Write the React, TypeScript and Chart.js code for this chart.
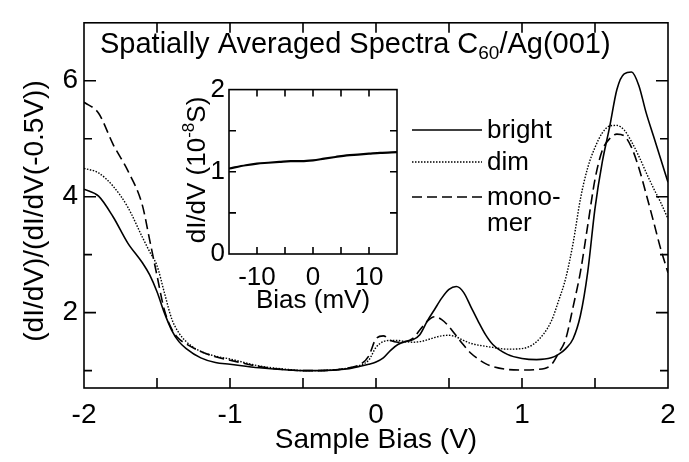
import React, { useEffect, useRef } from "react";
import { Chart, registerables } from "chart.js";
Chart.register(...registerables);

// ---------------- data ----------------
const biasV = [
  -2, -1.9, -1.8, -1.7, -1.6, -1.55, -1.5, -1.45, -1.4, -1.35, -1.3, -1.2, -1.1, -1.0,
  -0.8, -0.6, -0.5, -0.4, -0.2, -0.1, -0.05, 0, 0.05, 0.1, 0.15, 0.2, 0.25, 0.3, 0.35,
  0.4, 0.45, 0.5, 0.55, 0.6, 0.65, 0.7, 0.75, 0.8, 0.9, 1.0, 1.1, 1.2, 1.25, 1.3, 1.35,
  1.4, 1.45, 1.5, 1.55, 1.6, 1.65, 1.7, 1.75, 1.8, 1.85, 1.9, 1.95, 2.0,
];
const bright = [
  4.13, 4.01, 3.65, 3.2, 2.86, 2.65, 2.36, 2.0, 1.7, 1.5, 1.38, 1.22, 1.14, 1.11,
  1.05, 1.01, 1.0, 1.0, 1.03, 1.08, 1.11, 1.15, 1.22, 1.35, 1.45, 1.5, 1.53, 1.62, 1.85,
  2.05, 2.25, 2.4, 2.45, 2.35, 2.1, 1.85, 1.62, 1.45, 1.28, 1.21, 1.19, 1.22, 1.28, 1.38, 1.55,
  1.95, 2.7, 3.8, 4.6, 5.2, 5.85, 6.12, 6.15, 5.92, 5.45, 5.05, 4.65, 4.25,
];
const dim = [
  4.49, 4.41, 4.18, 3.82, 3.3, 3.05, 2.81, 2.35, 1.9, 1.65, 1.5, 1.33, 1.25, 1.2,
  1.08, 1.02, 1.0, 1.0, 1.04, 1.1, 1.18, 1.4, 1.5, 1.52, 1.52, 1.5, 1.49, 1.5, 1.53,
  1.57, 1.6, 1.61, 1.58, 1.52, 1.47, 1.44, 1.42, 1.4, 1.37, 1.38, 1.5, 1.85, 2.2, 2.6, 3.2,
  3.96, 4.5, 4.85, 5.1, 5.22, 5.23, 5.15, 4.95, 4.7, 4.42, 4.15, 3.9, 3.62,
];
const monomer = [
  5.63, 5.44, 4.9, 4.45, 3.85, 3.25, 2.64, 2.05, 1.72, 1.55, 1.46, 1.33, 1.24, 1.18,
  1.07, 1.01, 1.0, 1.0, 1.04, 1.12, 1.25, 1.55, 1.6, 1.52, 1.49, 1.5, 1.55, 1.7, 1.85,
  1.93, 1.88, 1.76, 1.6, 1.44, 1.3, 1.2, 1.12, 1.07, 1.02, 1.01, 1.02, 1.1, 1.3, 1.55, 2.1,
  2.7, 3.5, 4.3, 4.8, 5.0, 5.08, 5.05, 4.85, 4.5, 4.05, 3.58, 3.1, 2.69,
];
const seriesLabels = ["bright", "dim", "monomer"];
const legendLines = [["bright"], ["dim"], ["mono-", "mer"]];

const xTickLabels = [-2, -1, 0, 1, 2];
const yTickLabels = [2, 4, 6];
const xTickMarks = [-1.5, -1, -0.5, 0, 0.5, 1, 1.5];
const yTickMarks = [1, 2, 3, 4, 5, 6];

const insetBiasMV = [-15, -12, -10, -8, -6, -4, -2, 0, 2, 4, 6, 8, 10, 12, 15];
const insetDIdV = [1.04, 1.08, 1.1, 1.11, 1.12, 1.13, 1.13, 1.14, 1.16, 1.18, 1.2, 1.21, 1.22, 1.23, 1.24];
const insetXTickLabels = [-10, 0, 10];
const insetYTickLabels = [0, 1, 2];
const insetXTickMarks = [-10, -5, 0, 5, 10];
const insetYTickMarks = [0.5, 1, 1.5];

// ---------------- styles ----------------
const FAM = '"Liberation Sans", Arial, sans-serif';
const INK = "#000";

function frameTicks(id: string, xMarks: number[], yMarks: number[], xLen: number, yLen: (v: number) => number, lw: number) {
  return {
    id,
    afterDatasetsDraw(chart: any) {
      const { ctx, chartArea } = chart;
      const { left, right, top, bottom } = chartArea;
      const xs = chart.scales.x;
      const ys = chart.scales.y;
      ctx.save();
      ctx.strokeStyle = INK;
      ctx.lineWidth = lw;
      ctx.setLineDash([]);
      ctx.strokeRect(left, top, right - left, bottom - top);
      ctx.beginPath();
      for (const v of xMarks) {
        const px = xs.getPixelForValue(v);
        ctx.moveTo(px, bottom);
        ctx.lineTo(px, bottom - xLen);
        ctx.moveTo(px, top);
        ctx.lineTo(px, top + xLen);
      }
      for (const v of yMarks) {
        const py = ys.getPixelForValue(v);
        const l = yLen(v);
        ctx.moveTo(left, py);
        ctx.lineTo(left + l, py);
        ctx.moveTo(right, py);
        ctx.lineTo(right - l, py);
      }
      ctx.stroke();
      ctx.restore();
    },
  };
}

const mainTextPlugin = {
  id: "mainText",
  afterDraw(chart: any) {
    const { ctx } = chart;
    ctx.save();
    ctx.fillStyle = INK;
    // title with subscript
    ctx.textAlign = "left";
    ctx.textBaseline = "alphabetic";
    let x = 100;
    const base = 53;
    ctx.font = `29px ${FAM}`;
    const p1 = "Spatially Averaged Spectra C";
    ctx.fillText(p1, x, base);
    x += ctx.measureText(p1).width;
    ctx.font = `19px ${FAM}`;
    ctx.fillText("60", x, base + 6);
    x += ctx.measureText("60").width;
    ctx.font = `29px ${FAM}`;
    ctx.fillText("/Ag(001)", x, base);

    // y title
    ctx.save();
    ctx.translate(43, 211);
    ctx.rotate(-Math.PI / 2);
    ctx.textAlign = "center";
    ctx.font = `28px ${FAM}`;
    ctx.fillText("(dI/dV)/(dI/dV(-0.5V))", 0, 0);
    ctx.restore();

    // legend
    const ds = chart.data.datasets;
    const lineYs = [130, 162, 197];
    ctx.font = `26px ${FAM}`;
    for (let i = 0; i < ds.length; i++) {
      const y = lineYs[i];
      ctx.save();
      ctx.strokeStyle = ds[i].borderColor;
      ctx.lineWidth = ds[i].borderWidth;
      ctx.setLineDash(ds[i].borderDash || []);
      ctx.beginPath();
      ctx.moveTo(412, y);
      ctx.lineTo(482, y);
      ctx.stroke();
      ctx.restore();
      const lines = legendLines[i];
      for (let j = 0; j < lines.length; j++) {
        ctx.fillText(lines[j], 487, y + 8 + j * 26);
      }
    }
    ctx.restore();
  },
};

const insetTextPlugin = {
  id: "insetText",
  afterDraw(chart: any) {
    const { ctx } = chart;
    ctx.save();
    ctx.fillStyle = INK;
    ctx.translate(55, 100);
    ctx.rotate(-Math.PI / 2);
    ctx.textBaseline = "alphabetic";
    ctx.textAlign = "left";
    const big = `26px ${FAM}`;
    const small = `17px ${FAM}`;
    ctx.font = big;
    const a = "dI/dV (10";
    const c = "S)";
    const wa = ctx.measureText(a).width;
    const wc = ctx.measureText(c).width;
    ctx.font = small;
    const b = "-8";
    const wb = ctx.measureText(b).width;
    let x = -(wa + wb + wc) / 2;
    ctx.font = big;
    ctx.fillText(a, x, 0);
    x += wa;
    ctx.font = small;
    ctx.fillText(b, x, -11);
    x += wb;
    ctx.font = big;
    ctx.fillText(c, x, 0);
    ctx.restore();
  },
};

export default function App() {
  const mainRef = useRef<HTMLCanvasElement>(null);
  const insetRef = useRef<HTMLCanvasElement>(null);

  useEffect(() => {
    const tickFont = { family: FAM, size: 28 };
    const styles = [
      { borderWidth: 1.6, borderDash: [] as number[] },
      { borderWidth: 1.4, borderDash: [1.5, 1.5] },
      { borderWidth: 1.6, borderDash: [10, 5] },
    ];
    const seriesValues = [bright, dim, monomer];
    const main = new Chart(mainRef.current!, {
      type: "line",
      data: {
        datasets: seriesValues.map((vals, k) => ({
          label: seriesLabels[k],
          data: biasV.map((x, i) => ({ x, y: vals[i] })),
          borderColor: INK,
          borderWidth: styles[k].borderWidth,
          borderDash: styles[k].borderDash,
          pointRadius: 0,
          fill: false,
          cubicInterpolationMode: "monotone",
        })),
      },
      options: {
        responsive: false,
        animation: false,
        events: [],
        layout: { padding: { left: 0, right: 21, top: 6, bottom: 0 } },
        plugins: { legend: { display: false }, tooltip: { enabled: false }, title: { display: false } },
        scales: {
          x: {
            type: "linear",
            min: -2,
            max: 2,
            afterBuildTicks: (s: any) => {
              s.ticks = xTickLabels.map((v) => ({ value: v }));
            },
            afterFit: (s: any) => {
              s.height = 74;
            },
            grid: { display: false, drawTicks: false },
            border: { display: false },
            ticks: { font: tickFont, color: INK, padding: 10, maxRotation: 0, callback: (v: any) => String(v) },
            title: {
              display: true,
              text: "Sample Bias (V)",
              font: { family: FAM, size: 28 },
              color: INK,
              padding: { top: 0, bottom: 5 },
            },
          },
          y: {
            type: "linear",
            min: 0.7,
            max: 7,
            afterBuildTicks: (s: any) => {
              s.ticks = yTickLabels.map((v) => ({ value: v }));
            },
            afterFit: (s: any) => {
              s.width = 84;
            },
            grid: { display: false, drawTicks: false },
            border: { display: false },
            ticks: { font: tickFont, color: INK, padding: 6, callback: (v: any) => String(v) },
          },
        },
      },
      plugins: [
        frameTicks("mainFrame", xTickMarks, yTickMarks, 10, (v) => (v % 2 === 0 ? 12 : 8), 1.6),
        mainTextPlugin,
      ],
    } as any);

    const insetFont = { family: FAM, size: 26 };
    const inset = new Chart(insetRef.current!, {
      type: "line",
      data: {
        datasets: [
          {
            label: "dI/dV",
            data: insetBiasMV.map((x, i) => ({ x, y: insetDIdV[i] })),
            borderColor: INK,
            borderWidth: 2.2,
            pointRadius: 0,
            fill: false,
            cubicInterpolationMode: "monotone",
          },
        ],
      },
      options: {
        responsive: false,
        animation: false,
        events: [],
        layout: { padding: { left: 0, right: 23, top: 15, bottom: 0 } },
        plugins: { legend: { display: false }, tooltip: { enabled: false } },
        scales: {
          x: {
            type: "linear",
            min: -15,
            max: 15,
            afterBuildTicks: (s: any) => {
              s.ticks = insetXTickLabels.map((v) => ({ value: v }));
            },
            afterFit: (s: any) => {
              s.height = 66;
            },
            grid: { display: false, drawTicks: false },
            border: { display: false },
            ticks: { font: insetFont, color: INK, padding: 8, maxRotation: 0, callback: (v: any) => String(v) },
            title: {
              display: true,
              text: "Bias (mV)",
              font: { family: FAM, size: 26 },
              color: INK,
              padding: { top: 0, bottom: 4 },
            },
          },
          y: {
            type: "linear",
            min: 0,
            max: 2,
            afterBuildTicks: (s: any) => {
              s.ticks = insetYTickLabels.map((v) => ({ value: v }));
            },
            afterFit: (s: any) => {
              s.width = 79;
            },
            grid: { display: false, drawTicks: false },
            border: { display: false },
            ticks: { font: insetFont, color: INK, padding: 4, callback: (v: any) => String(v) },
          },
        },
      },
      plugins: [frameTicks("insetFrame", insetXTickMarks, insetYTickMarks, 7, () => 7, 1.6), insetTextPlugin],
    } as any);

    return () => {
      main.destroy();
      inset.destroy();
    };
  }, []);

  return (
    <div style={{ position: "fixed", left: 0, top: 0, width: 689, height: 462, background: "#fff" }}>
      <canvas ref={mainRef} width={689} height={462} style={{ position: "absolute", left: 0, top: 0 }} />
      <canvas ref={insetRef} width={270} height={250} style={{ position: "absolute", left: 150, top: 70 }} />
    </div>
  );
}
